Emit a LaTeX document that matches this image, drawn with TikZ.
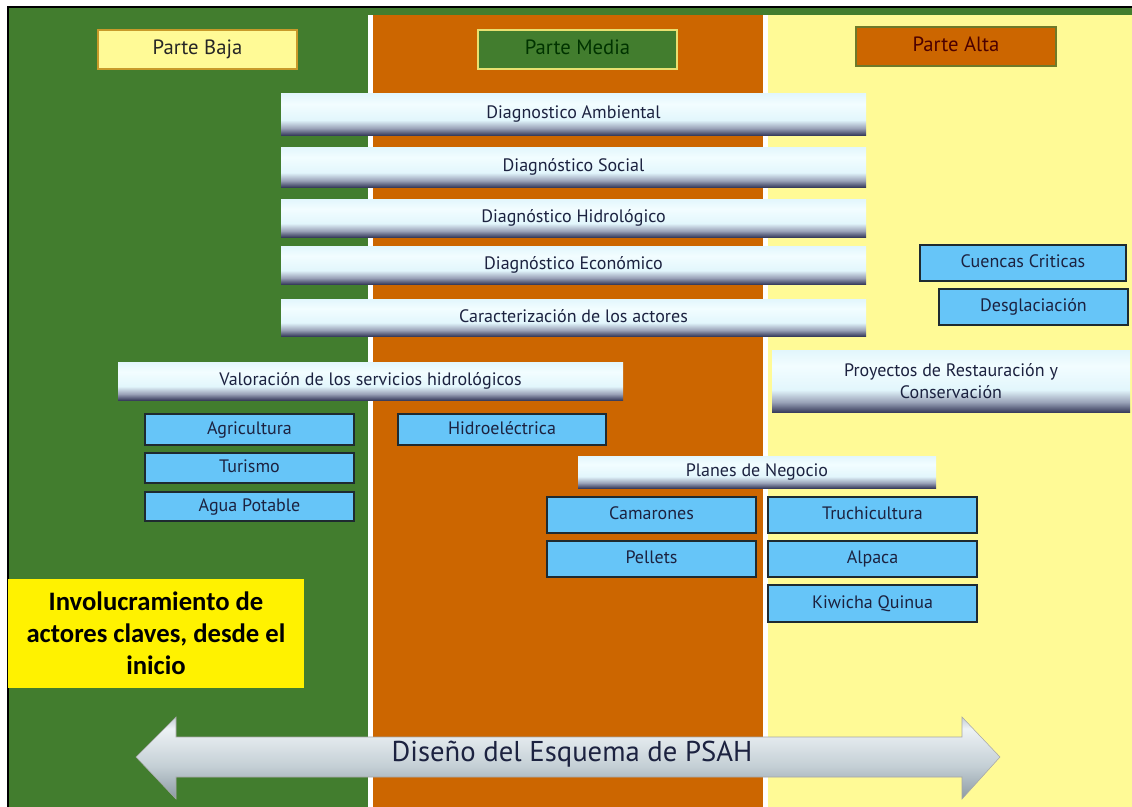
\documentclass[tikz,border=0pt]{standalone}
\usepackage{fontspec}
\setmainfont{PT Sans}
\newfontfamily\calib{Carlito}
\definecolor{greenA}{HTML}{427D2E}
\definecolor{orangeA}{HTML}{CC6600}
\definecolor{yellowA}{HTML}{FFFA96}
\definecolor{hdrYb}{HTML}{C89A2A}
\definecolor{hdrGb}{HTML}{E8E070}
\definecolor{hdrOb}{HTML}{6E7A2A}
\definecolor{barD}{HTML}{3A3E5E}
\definecolor{barM}{HTML}{9AA2B8}
\definecolor{barL}{HTML}{E2F6FC}
\definecolor{barT}{HTML}{F2FDFF}
\definecolor{blueA}{HTML}{66C5F8}
\definecolor{blueB}{HTML}{1E2A30}
\definecolor{txtA}{HTML}{1C2240}
\definecolor{arD}{HTML}{8C9AA3}
\definecolor{arM}{HTML}{C4CFD5}
\definecolor{arL}{HTML}{EDF2F5}
\pgfdeclareverticalshading{barshade}{100bp}{color(0bp)=(barD); color(25bp)=(barD); color(33bp)=(barM); color(43bp)=(barL); color(62bp)=(barT); color(75bp)=(barL); color(100bp)=(barL)}
\pgfdeclareverticalshading{arrowshade}{100bp}{color(0bp)=(arD); color(25bp)=(arD); color(45bp)=(arM); color(68bp)=(arL); color(75bp)=(arM); color(100bp)=(arM)}
\begin{document}
\begin{tikzpicture}[x=0.75pt,y=-0.75pt,
  sz/.style 2 args={minimum width=#1*0.75pt, minimum height=#2*0.75pt},
  one/.style={text height=1.45ex, text depth=0pt},
  hdr/.style={inner sep=0pt, one, line width=1pt, font=\fontsize{15.5}{18}\selectfont},
  bar/.style={inner sep=0pt, shading=barshade, text=txtA, font=\fontsize{13.5}{17}\selectfont},
  bluebox/.style={inner sep=0pt, one, fill=blueA, draw=blueB, line width=1.3pt, text=txtA, font=\fontsize{13.5}{16}\selectfont}]
\useasboundingbox (0,0) rectangle (1132,807);
\fill[white] (0,0) rectangle (1132,807);
\fill[greenA] (8,7) rectangle (1132,807);
\fill[white] (368,15) rectangle (768,807);
\fill[orangeA] (373,15) rectangle (763,807);
\fill[yellowA] (768,15) rectangle (1132,807);
\draw[line width=1.5pt] (8,807) -- (8,7) -- (1132,7);
% headers
\node[hdr, sz={199}{39}, fill=yellowA, draw=hdrYb, text=black!85] (baja) at (197.5,49.5) {Parte Baja};
\node[hdr, sz={199}{39}, fill=greenA, draw=hdrGb, text=black!80!green] (media) at (577.5,49.5) {Parte Media};
\node[hdr, sz={200}{39}, fill=orangeA, draw=hdrOb, text=black!70!red] (alta) at (956,46.5) {Parte Alta};
% bars
\node[bar, one, sz={585}{42}] (amb) at (573.5,114) {Diagnostico Ambiental};
\node[bar, one, sz={585}{40}] (soc) at (573.5,167) {Diagnóstico Social};
\node[bar, one, sz={585}{38}] (hid) at (573.5,218) {Diagnóstico Hidrológico};
\node[bar, one, sz={585}{38}] (eco) at (573.5,265) {Diagnóstico Económico};
\node[bar, one, sz={585}{37}] (act) at (573.5,317.5) {Caracterización de los actores};
\node[bar, one, sz={505}{38}] (val) at (370.5,381) {Valoración de los servicios hidrológicos};
\node[bar, sz={358}{62}, align=center] (proy) at (951,381) {Proyectos de Restauración y\\Conservación};
\node[bar, one, sz={358}{32}] (plan) at (757,472) {Planes de Negocio};
% blue boxes
\node[bluebox, sz={209}{31}] (agri) at (249.5,429.5) {Agricultura};
\node[bluebox, sz={209}{30}] (tur) at (249.5,468) {Turismo};
\node[bluebox, sz={209}{29}] (agua) at (249.5,506.5) {Agua Potable};
\node[bluebox, sz={208}{31}] (hidro) at (502,429.5) {Hidroeléctrica};
\node[bluebox, sz={209}{36}] (cam) at (651.5,515) {Camarones};
\node[bluebox, sz={209}{36}] (pel) at (651.5,559) {Pellets};
\node[bluebox, sz={209}{36}] (tru) at (872.5,515) {Truchicultura};
\node[bluebox, sz={209}{36}] (alp) at (872.5,559) {Alpaca};
\node[bluebox, sz={209}{37}] (kiw) at (872.5,603.5) {Kiwicha Quinua};
\node[bluebox, sz={206}{36}] (cue) at (1023,263) {Cuencas Criticas};
\node[bluebox, sz={189}{36}] (des) at (1033.5,307) {Desglaciación};
% yellow note
\node[inner sep=0pt, sz={296}{109}, fill=yellow, align=center, font=\calib\bfseries\fontsize{20}{24}\selectfont] (inv) at (156,633) {Involucramiento de\\actores claves, desde el\\inicio};
% arrow
\shade[shading=arrowshade, draw=gray!70, line width=0.4pt] (136,757) -- (176,717) -- (176,737) -- (962,737) -- (962,717) -- (1000,757) -- (962,799) -- (962,777) -- (176,777) -- (176,799) -- cycle;
\node[one, text=txtA, font=\fontsize{21.5}{24}\selectfont] (dis) at (572,757) {Diseño del Esquema de PSAH};
\end{tikzpicture}
\end{document}
